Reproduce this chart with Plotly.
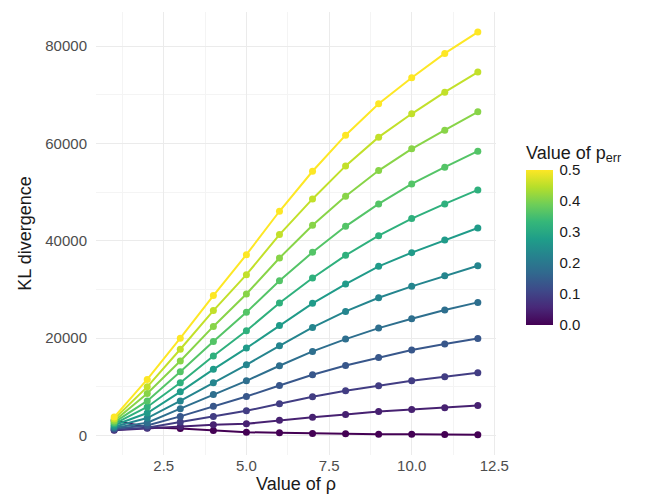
import plotly.graph_objects as go
from plotly.colors import sample_colorscale

rho = [1, 2, 3, 4, 5, 6, 7, 8, 9, 10, 11, 12]
p_err = [0.5 * i / 11 for i in range(11, -1, -1)]

kl = [
    [3790, 11520, 20000, 28760, 37160, 46070, 54290, 61700, 68140, 73490, 78490, 82880],
    [3400, 10000, 17720, 25660, 33040, 41270, 48600, 55390, 61290, 66090, 70540, 74650],
    [3000, 8620, 15310, 22410, 29070, 36470, 43190, 49150, 54430, 58890, 62730, 66500],
    [2700, 7100, 13100, 19310, 25300, 31810, 37640, 42980, 47580, 51690, 55120, 58410],
    [2400, 5860, 10830, 16350, 21520, 27220, 32360, 37020, 41060, 44560, 47580, 50460],
    [2100, 4620, 8970, 13590, 17960, 22620, 27150, 31120, 34760, 37570, 40170, 42640],
    [1800, 3590, 7100, 10830, 14530, 18440, 22210, 25500, 28310, 30640, 32840, 34890],
    [1600, 2620, 5520, 8410, 11240, 14330, 17280, 19810, 22070, 23990, 25780, 27350],
    [1400, 2070, 3930, 6000, 8020, 10280, 12480, 14400, 16040, 17550, 18780, 19950],
    [1200, 1590, 2760, 3930, 5070, 6510, 7950, 9190, 10210, 11240, 12070, 12890],
    [1100, 1520, 1860, 2210, 2400, 3150, 3770, 4320, 4940, 5350, 5690, 6170],
    [3100, 1700, 1450, 1030, 680, 550, 410, 350, 270, 270, 200, 140],
]

colors = sample_colorscale("Viridis", [p / 0.5 for p in p_err])

fig = go.Figure()
for p, ys, c in zip(p_err[::-1], kl[::-1], colors[::-1]):
    fig.add_trace(go.Scatter(
        x=rho, y=ys, mode="lines+markers",
        line=dict(color=c, width=2), marker=dict(color=c, size=7),
        showlegend=False, hoverinfo="skip"))

# dummy trace for the colour bar
fig.add_trace(go.Scatter(
    x=[None], y=[None], mode="markers", showlegend=False,
    marker=dict(color=[0, 0.5], colorscale="Viridis", cmin=0, cmax=0.5, showscale=True,
                colorbar=dict(
                    title=dict(text="Value of p<sub>err</sub>", font=dict(size=18, color="#1a1a1a")),
                    tickvals=[0, 0.1, 0.2, 0.3, 0.4, 0.5],
                    ticktext=["0.0", "0.1", "0.2", "0.3", "0.4", "0.5"],
                    tickfont=dict(size=15, color="#1a1a1a"),
                    thickness=27, lenmode="pixels", len=203, y=0.50, yanchor="middle",
                    x=1.05, outlinewidth=0, ticks="outside", ticklen=4, tickcolor="white"))))

axis_common = dict(showgrid=True, gridcolor="#ebebeb", gridwidth=1.2, zeroline=False,
                   showline=False, ticks="", tickfont=dict(size=15, color="#4d4d4d"))
fig.update_layout(
    width=646, height=503,
    plot_bgcolor="white", paper_bgcolor="white",
    font=dict(family="Liberation Sans, Arial, sans-serif"),
    margin=dict(l=88, r=158, t=4, b=56),
    xaxis=dict(range=[0.45, 12.55], tickvals=[2.5, 5, 7.5, 10, 12.5],
               ticktext=["2.5", "5.0", "7.5", "10.0", "12.5"],
               title=dict(text="Value of ρ", font=dict(size=18, color="#1a1a1a"), standoff=4),
               **axis_common),
    yaxis=dict(range=[-4000, 87000], tickvals=[0, 20000, 40000, 60000, 80000],
               ticktext=["0", "20000", "40000", "60000", "80000"],
               ticklabelstandoff=8,
               title=dict(text="KL divergence", font=dict(size=18, color="#1a1a1a"), standoff=8),
               **axis_common),
)
fig.update_xaxes(minor=dict(showgrid=True, gridcolor="#f4f4f4", dtick=1.25, tick0=1.25))
fig.update_yaxes(minor=dict(showgrid=True, gridcolor="#f4f4f4", dtick=10000, tick0=10000))

fig.write_html("out.html")
